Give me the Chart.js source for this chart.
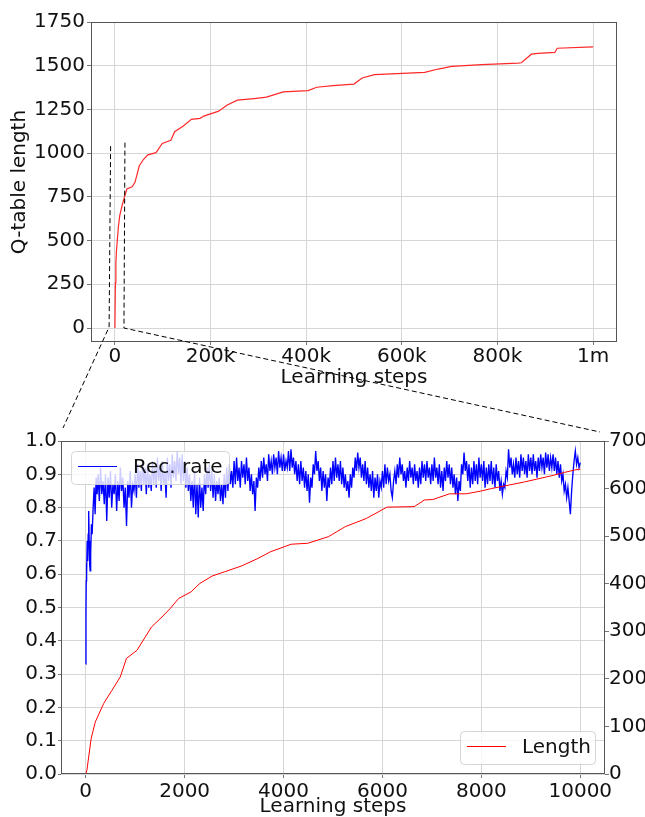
<!DOCTYPE html>
<html>
<head>
<meta charset="utf-8">
<script src="https://cdn.jsdelivr.net/npm/chart.js@4.4.0/dist/chart.umd.min.js"></script>
<style>
  html, body { margin: 0; padding: 0; background: #fff; overflow: hidden; }
  #wrap { position: relative; width: 645px; height: 817px; }
  canvas { position: absolute; left: 0; }
  #topChart { top: 0; }
  #bottomChart { top: 417px; }
  #overlay { top: 0; pointer-events: none; }
</style>
</head>
<body>
<div id="wrap">
  <canvas id="topChart" width="645" height="400"></canvas>
  <canvas id="bottomChart" width="645" height="400"></canvas>
  <canvas id="overlay" width="645" height="817"></canvas>
</div>
<script>
// ---- top chart: Q-table length over 1m steps ----
const qSteps = [0, 1000, 2000, 3000, 5000, 7500, 10000, 15000, 20000, 25000, 36000, 42000,
  51000, 60000, 69000, 86000, 99000, 117000, 125000, 143000, 160000, 178000, 186000,
  217000, 234000, 256000, 291000, 317000, 352000, 404000, 422000, 456000, 500000, 517000,
  543000, 613000, 648000, 676000, 704000, 767000, 843000, 850000, 871000, 885000, 920000,
  925000, 1000000];
const qLength = [0, 258, 370, 432, 503, 585, 641, 700, 750, 795, 808, 833,
  928, 965, 990, 1003, 1055, 1074, 1123, 1155, 1193, 1199, 1212,
  1240, 1274, 1303, 1312, 1320, 1350, 1358, 1377, 1386, 1395, 1430,
  1449, 1458, 1462, 1481, 1496, 1506, 1515, 1517, 1566, 1571, 1576,
  1600, 1608];

const topXTicks = [0, 200000, 400000, 600000, 800000, 1000000];
const topXLabels = ['0', '200k', '400k', '600k', '800k', '1m'];
const topYTicks = [0, 250, 500, 750, 1000, 1250, 1500, 1750];

// zoom marker drawn on the top chart (data units)
const insetX = [-9000, 21000];
const insetTop = [1040, 1060];

// ---- bottom chart: first 10000 steps ----
const lenSteps = [0, 24, 109, 192, 362, 530, 698, 824, 1036, 1204, 1330, 1541, 1709, 1879,
  2132, 2300, 2553, 2805, 3143, 3479, 3732, 4154, 4490, 4910, 5249, 5671, 6093, 6641,
  6849, 7019, 7357, 7694, 8000, 8200, 8400, 8873, 9464, 9682, 9885, 10000];
const lenValues = [0, 8, 74, 109, 148, 176, 204, 243, 260, 288, 309, 330, 348, 369,
  383, 400, 416, 425, 437, 453, 467, 483, 485, 499, 520, 537, 561, 562,
  576, 577, 589, 589, 595, 600, 604, 614, 628, 634, 639, 641];

const rateEarlySteps = [0, 5, 10, 15, 20, 30, 40, 50, 60, 70, 80, 90, 100, 115, 130, 150, 170, 190, 210, 230];
const rateEarly = [0.33, 0.48, 0.58, 0.63, 0.60, 0.70, 0.64, 0.72, 0.79, 0.70, 0.63, 0.61, 0.66, 0.75,
  0.72, 0.80, 0.86, 0.78, 0.89, 0.84];
// sampled every 25 steps from 250 to 10000
const rateFrom = 250, rateEvery = 25;
const rateValues = [
  0.90, 0.82, 0.92, 0.84, 0.88, 0.81, 0.90, 0.76, 0.89, 0.83, 0.91, 0.80, 0.87, 0.84, 0.90, 0.79, 0.88, 0.82, 0.92, 0.85,
  0.89, 0.80, 0.86, 0.745, 0.88, 0.83, 0.91, 0.80, 0.87, 0.85,
  0.90, 0.83, 0.93, 0.86, 0.91, 0.85, 0.94, 0.87, 0.92, 0.84, 0.93, 0.86, 0.90, 0.85, 0.94, 0.87, 0.92, 0.86, 0.95, 0.88,
  0.93, 0.85, 0.94, 0.87, 0.91, 0.83, 0.95, 0.88, 0.93, 0.86, 0.96, 0.89, 0.94, 0.88, 0.97, 0.90, 0.95, 0.87, 0.96, 0.88,
  0.94, 0.86, 0.92, 0.85, 0.90, 0.82, 0.88, 0.80, 0.91, 0.78, 0.87, 0.77, 0.89, 0.80, 0.86, 0.79, 0.90, 0.84, 0.92, 0.86,
  0.93, 0.85, 0.91, 0.83, 0.90, 0.82, 0.88, 0.84, 0.89, 0.82, 0.87, 0.81, 0.90, 0.83, 0.92, 0.85, 0.93, 0.87, 0.91, 0.86,
  0.94, 0.87, 0.95, 0.88, 0.92, 0.86, 0.94, 0.89, 0.93, 0.87, 0.95, 0.88, 0.92, 0.85, 0.90, 0.84, 0.88, 0.79, 0.89, 0.86,
  0.92, 0.88, 0.94, 0.89, 0.95, 0.90, 0.93, 0.88, 0.96, 0.91, 0.94, 0.90, 0.96, 0.92, 0.95, 0.90, 0.97, 0.92, 0.95, 0.91,
  0.96, 0.91, 0.94, 0.92, 0.97, 0.91, 0.975, 0.92, 0.95, 0.90, 0.94, 0.88, 0.93, 0.87, 0.94, 0.88, 0.92, 0.86, 0.91, 0.85,
  0.90, 0.815, 0.89, 0.86, 0.93, 0.90, 0.97, 0.91, 0.94, 0.88, 0.92, 0.85, 0.91, 0.86, 0.90, 0.82, 0.89, 0.86, 0.92, 0.87,
  0.94, 0.88, 0.95, 0.89, 0.93, 0.88, 0.94, 0.87, 0.92, 0.86, 0.90, 0.85, 0.88, 0.83, 0.90, 0.86, 0.92, 0.89, 0.95, 0.91,
  0.965, 0.92, 0.95, 0.89, 0.93, 0.88, 0.94, 0.87, 0.92, 0.86, 0.90, 0.85, 0.91, 0.83, 0.89, 0.85, 0.90, 0.83, 0.88, 0.86,
  0.91, 0.86, 0.93, 0.87, 0.92, 0.88, 0.90, 0.85, 0.83, 0.88, 0.91, 0.87, 0.93, 0.89, 0.95, 0.90, 0.93, 0.88, 0.91, 0.86,
  0.92, 0.88, 0.94, 0.89, 0.92, 0.87, 0.93, 0.88, 0.91, 0.86, 0.92, 0.87, 0.94, 0.89, 0.93, 0.88, 0.94, 0.89, 0.92, 0.87,
  0.93, 0.88, 0.95, 0.89, 0.92, 0.87, 0.93, 0.86, 0.91, 0.85, 0.92, 0.88, 0.94, 0.89, 0.93, 0.87, 0.92, 0.86, 0.90, 0.84,
  0.89, 0.82, 0.88, 0.85, 0.93, 0.90, 0.965, 0.91, 0.94, 0.88, 0.93, 0.86, 0.92, 0.87, 0.94, 0.88, 0.93, 0.87, 0.95, 0.89,
  0.93, 0.88, 0.94, 0.86, 0.92, 0.87, 0.93, 0.88, 0.94, 0.87, 0.92, 0.86, 0.93, 0.88, 0.91, 0.85, 0.88, 0.84, 0.87, 0.86,
  0.91, 0.89, 0.975, 0.92, 0.95, 0.90, 0.93, 0.89, 0.95, 0.90, 0.94, 0.89, 0.96, 0.91, 0.95, 0.90, 0.94, 0.89, 0.96, 0.91,
  0.95, 0.90, 0.96, 0.91, 0.94, 0.89, 0.95, 0.91, 0.96, 0.92, 0.95, 0.90, 0.965, 0.92, 0.96, 0.91, 0.95, 0.92, 0.96, 0.91,
  0.95, 0.90, 0.94, 0.89, 0.93, 0.88, 0.90, 0.85, 0.87, 0.83, 0.86, 0.82, 0.78, 0.85, 0.90, 0.94, 0.97, 0.93, 0.95, 0.92,
  0.935
];

const botXTicks = [0, 2000, 4000, 6000, 8000, 10000];
const rateTicks = [0, 0.1, 0.2, 0.3, 0.4, 0.5, 0.6, 0.7, 0.8, 0.9, 1.0];
const lenTicks = [0, 100, 200, 300, 400, 500, 600, 700];

// ---- styling ----
Chart.defaults.font.family = "'DejaVu Sans', sans-serif";
Chart.defaults.font.size = 20;
Chart.defaults.color = '#111';

const gridColor = '#d6d6d6';
const spineColor = '#555';
const titleFont = { size: 20, lineHeight: 1 };
const plain = v => String(v);

function fixedTicks(values) {
  return axis => { axis.ticks = values.map(v => ({ value: v })); };
}

// matplotlib-like box around the plot area
const framePlugin = {
  id: 'frame',
  afterDatasetsDraw(chart) {
    const { ctx, chartArea: a } = chart;
    ctx.save();
    ctx.strokeStyle = spineColor;
    ctx.lineWidth = 1;
    ctx.strokeRect(Math.round(a.left) + 0.5, Math.round(a.top) + 0.5,
      Math.round(a.right - a.left) - 1, Math.round(a.bottom - a.top) - 1);
    ctx.restore();
  }
};

function legendBox(ctx, x, y, w, h, color, text) {
  ctx.save();
  ctx.beginPath();
  ctx.roundRect(x + 0.5, y + 0.5, w, h, 4);
  ctx.fillStyle = 'rgba(255,255,255,0.8)';
  ctx.fill();
  ctx.strokeStyle = 'rgba(210,210,210,0.9)';
  ctx.lineWidth = 1;
  ctx.stroke();
  ctx.beginPath();
  ctx.moveTo(x + 7, y + 15.5);
  ctx.lineTo(x + 46, y + 15.5);
  ctx.strokeStyle = color;
  ctx.stroke();
  ctx.fillStyle = '#111';
  ctx.font = "20px 'DejaVu Sans'";
  ctx.textBaseline = 'middle';
  ctx.fillText(text, x + 62, y + h / 2 + 0.5);
  ctx.restore();
}

// legends sit inside the plot area, as in the original figure
const insideLegends = {
  id: 'insideLegends',
  afterDatasetsDraw(chart) {
    const { ctx, chartArea: a } = chart;
    const ds = chart.data.datasets;
    legendBox(ctx, a.left + 10, a.top + 10, 158, 33, ds[0].borderColor, ds[0].label);
    legendBox(ctx, a.right - 10 - 135, a.bottom - 10 - 33, 135, 33, ds[1].borderColor, ds[1].label);
  }
};

const topChart = new Chart(document.getElementById('topChart'), {
  type: 'line',
  data: {
    datasets: [{
      label: 'Q-table length',
      data: qSteps.map((s, i) => ({ x: s, y: qLength[i] })),
      borderColor: 'rgb(255,40,40)',
      borderWidth: 1.2,
      pointRadius: 0,
      tension: 0
    }]
  },
  options: {
    responsive: false,
    animation: false,
    events: [],
    layout: { padding: { top: 22, right: 28, left: 0, bottom: 0 } },
    plugins: { legend: { display: false }, tooltip: { enabled: false } },
    scales: {
      x: {
        type: 'linear', min: -50000, max: 1050000,
        afterBuildTicks: fixedTicks(topXTicks),
        afterFit: s => { s.height = 58; },
        ticks: { callback: v => topXLabels[topXTicks.indexOf(v)], autoSkip: false, maxRotation: 0, padding: 0 },
        grid: { color: gridColor, tickColor: '#777', tickLength: 3 },
        border: { display: false },
        title: { display: true, text: 'Learning steps', font: titleFont, padding: { top: 0, bottom: 12 } }
      },
      y: {
        min: -80, max: 1750,
        afterBuildTicks: fixedTicks(topYTicks),
        afterFit: s => { s.width = 91; },
        ticks: { autoSkip: false, padding: 2, callback: plain },
        grid: { color: gridColor, tickColor: '#777', tickLength: 4 },
        border: { display: false },
        title: { display: true, text: 'Q-table length', font: titleFont, padding: { top: 10, bottom: 0 } }
      }
    }
  },
  plugins: [framePlugin]
});

const ratePoints = rateEarlySteps.map((s, i) => ({ x: s, y: rateEarly[i] }))
  .concat(rateValues.map((v, i) => ({ x: rateFrom + i * rateEvery, y: v })));

const bottomChart = new Chart(document.getElementById('bottomChart'), {
  type: 'line',
  data: {
    datasets: [
      {
        label: 'Rec. rate',
        data: ratePoints,
        borderColor: '#0000ff',
        borderWidth: 1.35,
        pointRadius: 0,
        tension: 0,
        yAxisID: 'y',
        order: 2
      },
      {
        label: 'Length',
        data: lenSteps.map((s, i) => ({ x: s, y: lenValues[i] })),
        borderColor: '#ff0000',
        borderWidth: 1,
        pointRadius: 0,
        tension: 0,
        yAxisID: 'y1',
        order: 1
      }
    ]
  },
  options: {
    responsive: false,
    animation: false,
    events: [],
    layout: { padding: { top: 24, right: 0, left: 0, bottom: 0 } },
    plugins: { legend: { display: false }, tooltip: { enabled: false } },
    scales: {
      x: {
        type: 'linear', min: -500, max: 10500,
        afterBuildTicks: fixedTicks(botXTicks),
        afterFit: s => { s.height = 43; },
        ticks: { autoSkip: false, maxRotation: 0, padding: 2, callback: plain },
        grid: { color: gridColor, tickColor: '#777', tickLength: 4 },
        border: { display: false },
        title: { display: true, text: 'Learning steps', font: titleFont, padding: { top: 0, bottom: 0 } }
      },
      y: {
        position: 'left', min: 0, max: 1,
        afterBuildTicks: fixedTicks(rateTicks),
        afterFit: s => { s.width = 61; },
        ticks: { autoSkip: false, padding: 1, callback: v => v.toFixed(1) },
        grid: { color: gridColor, tickColor: '#777', tickLength: 3 },
        border: { display: false }
      },
      y1: {
        position: 'right', min: 0, max: 700,
        afterBuildTicks: fixedTicks(lenTicks),
        afterFit: s => { s.width = 40; },
        ticks: { autoSkip: false, padding: 0, callback: plain },
        grid: { drawOnChartArea: false, tickColor: '#777', tickLength: 4 },
        border: { display: false }
      }
    }
  },
  plugins: [framePlugin, insideLegends]
});

// dashed zoom marker + connectors to the lower plot
function drawConnectors() {
  const ctx = document.getElementById('overlay').getContext('2d');
  const tx = topChart.scales.x, ty = topChart.scales.y;
  const area = bottomChart.chartArea;
  const offY = document.getElementById('bottomChart').offsetTop;
  const lx = tx.getPixelForValue(insetX[0]), rx = tx.getPixelForValue(insetX[1]);
  const y0 = ty.getPixelForValue(0);
  ctx.save();
  ctx.strokeStyle = '#000';
  ctx.lineWidth = 1;
  ctx.setLineDash([5, 3]);
  ctx.beginPath();
  ctx.moveTo(lx, ty.getPixelForValue(insetTop[0]));
  ctx.lineTo(lx - 1.5, y0 - 1);
  ctx.lineTo(area.left + 2, offY + area.top - 13);
  ctx.stroke();
  ctx.beginPath();
  ctx.moveTo(rx, ty.getPixelForValue(insetTop[1]));
  ctx.lineTo(rx - 1, y0);
  ctx.lineTo(area.right - 5, offY + area.top - 9);
  ctx.stroke();
  ctx.restore();
}
drawConnectors();
</script>
</body>
</html>
